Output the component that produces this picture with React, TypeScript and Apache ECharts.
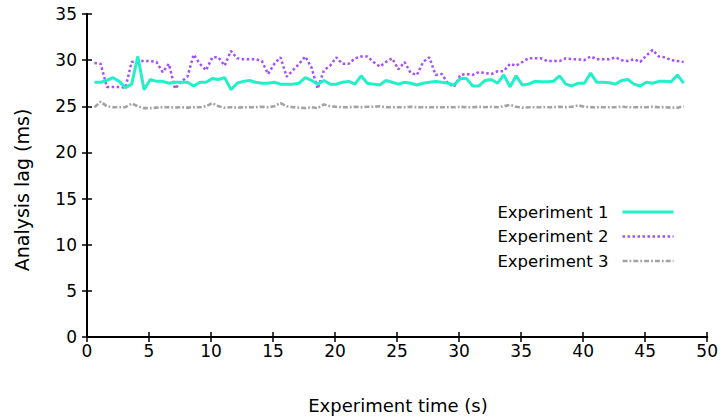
import React, { useEffect, useRef } from "react";
import * as echarts from "echarts";

// Sampling clock: one measurement every 0.5 s, starting at 0.6 s
const SAMPLE_START = 0.6;
const SAMPLE_STEP = 0.5;

const seriesNames = ["Experiment 1", "Experiment 2", "Experiment 3"];

const experiment1 = [
  27.6, 27.6, 27.8, 28.1, 27.7, 27.0, 27.4, 30.4, 26.8, 27.9,
  27.7, 27.7, 27.5, 27.6, 27.6, 27.6, 27.2, 27.6, 27.6, 28.0,
  27.9, 28.1, 26.8, 27.5, 27.7, 27.8, 27.6, 27.5, 27.5, 27.6,
  27.4, 27.4, 27.4, 27.5, 28.1, 27.8, 27.4, 27.8, 27.4, 27.4,
  27.6, 27.7, 27.4, 28.3, 27.5, 27.4, 27.3, 27.8, 27.6, 27.4,
  27.6, 27.5, 27.3, 27.5, 27.6, 27.7, 27.6, 27.5, 27.3, 28.0,
  28.0, 27.2, 27.2, 27.8, 27.9, 27.5, 28.4, 27.1, 28.3, 27.3,
  27.4, 27.7, 27.65, 27.65, 27.7, 28.3, 27.4, 27.2, 27.5, 27.5,
  28.6, 27.6, 27.6, 27.55, 27.4, 27.8, 27.9, 27.4, 27.2, 27.6,
  27.5, 27.7, 27.7, 27.65, 28.4, 27.5,
];

const experiment2 = [
  29.7, 29.6, 27.1, 27.1, 27.1, 27.0, 29.8, 29.9, 29.9, 29.9,
  29.8, 28.7, 29.6, 26.9, 27.7, 28.2, 30.6, 29.6, 28.9, 30.3,
  30.3, 29.4, 31.0, 30.2, 30.1, 30.1, 30.1, 29.9, 28.5, 29.6,
  30.3, 28.2, 28.9, 29.6, 30.4, 29.2, 26.9, 28.9, 29.4, 30.3,
  29.6, 29.6, 30.2, 30.4, 30.4, 29.8, 29.3, 29.8, 30.2, 29.0,
  29.8, 28.6, 28.4, 29.8, 30.3, 28.4, 28.5, 27.5, 27.1, 28.4,
  28.5, 28.4, 28.7, 28.6, 28.5, 28.8, 28.8, 29.6, 29.4, 29.8,
  30.2, 30.2, 30.2, 29.9, 29.9, 29.9, 30.2, 30.1, 30.1, 30.0,
  30.4, 30.1, 30.1, 30.1, 30.3, 30.0, 29.9, 30.1, 29.8, 30.5,
  31.1, 30.4, 30.3, 30.0, 29.9, 29.8,
];

const experiment3 = [
  24.9, 25.5, 25.0, 24.9, 24.9, 24.9, 25.3, 25.0, 24.8, 24.8,
  24.85, 24.9, 24.9, 24.85, 24.9, 24.85, 24.9, 24.9, 25.0, 25.35,
  25.0, 24.85, 24.9, 24.85, 24.9, 24.9, 24.9, 24.95, 24.9, 25.0,
  25.35, 25.0, 24.9, 24.85, 24.8, 24.9, 24.8, 25.2, 25.0, 24.95,
  24.9, 24.9, 24.95, 24.9, 24.95, 24.95, 25.0, 24.9, 24.9, 24.9,
  24.9, 24.95, 24.9, 24.9, 24.9, 24.9, 24.9, 24.9, 24.9, 24.95,
  24.9, 24.9, 24.95, 24.9, 24.95, 24.9, 25.0, 25.15, 24.95, 24.85,
  24.9, 24.9, 24.9, 24.9, 24.9, 24.95, 24.9, 24.95, 25.1, 24.95,
  24.9, 24.9, 24.9, 24.9, 24.9, 24.95, 24.9, 24.9, 24.9, 24.9,
  24.95, 24.9, 24.9, 24.85, 24.85, 25.0,
];

const X_TITLE = "Experiment time (s)";
const Y_TITLE = "Analysis lag (ms)";

const FONT = "'DejaVu Sans', sans-serif";

const lineStyles = [
  { color: "#22f0c8", width: 3 },
  { color: "#a64dff", width: 2.5, type: [2.5, 2.5] },
  { color: "#a3a3a3", width: 2.6, type: [5, 2, 1.8, 2] },
];

function withTimes(values: number[]) {
  return values.map((v, i) => [+(SAMPLE_START + i * SAMPLE_STEP).toFixed(2), v]);
}

export default function App() {
  const ref = useRef<HTMLDivElement>(null);

  useEffect(() => {
    if (!ref.current) return;
    const chart = echarts.init(ref.current, undefined, { renderer: "svg" });

    const axisLine = { show: true, lineStyle: { color: "#000", width: 2 } };
    const tick = { show: true, inside: true, length: 5, lineStyle: { color: "#000", width: 1.5 } };
    const label = { color: "#000", fontFamily: FONT, fontSize: 17 };

    const values = [experiment1, experiment2, experiment3];

    chart.setOption({
      animation: false,
      backgroundColor: "#fff",
      grid: { left: 87, right: 11, top: 14, bottom: 80, containLabel: false },
      xAxis: [
        {
          type: "value",
          min: 0,
          max: 50,
          interval: 5,
          axisLine,
          axisTick: tick,
          splitLine: { show: false },
          axisLabel: { ...label, margin: 5 },
        },
        {
          type: "value",
          position: "top",
          min: 0,
          max: 50,
          interval: 5,
          axisLine,
          axisTick: tick,
          splitLine: { show: false },
          axisLabel: { show: false },
        },
      ],
      yAxis: [
        {
          type: "value",
          min: 0,
          max: 35,
          interval: 5,
          axisLine,
          axisTick: tick,
          splitLine: { show: false },
          axisLabel: { ...label, margin: 10 },
        },
        {
          type: "value",
          position: "right",
          min: 0,
          max: 35,
          interval: 5,
          axisLine,
          axisTick: tick,
          splitLine: { show: false },
          axisLabel: { show: false },
        },
      ],
      legend: {
        orient: "vertical",
        align: "right",
        right: 41,
        top: 197,
        itemWidth: 51,
        itemHeight: 20,
        itemGap: 4.5,
        selectedMode: false,
        // line sample only, no marker on top of it
        itemStyle: { opacity: 0 },
        textStyle: {
          color: "#000",
          fontFamily: FONT,
          fontSize: 16.5,
          lineHeight: 20,
          padding: [0, 9, 0, 0],
        },
        data: seriesNames.map((name, i) => ({ name, lineStyle: { ...lineStyles[i] } })),
      },
      graphic: [
        {
          type: "text",
          x: 398,
          y: 405,
          style: {
            text: X_TITLE,
            fill: "#000",
            font: `18px ${FONT}`,
            textAlign: "center",
            textVerticalAlign: "middle",
          },
        },
        {
          type: "text",
          x: 22,
          y: 190,
          rotation: Math.PI / 2,
          style: {
            text: Y_TITLE,
            fill: "#000",
            font: `19px ${FONT}`,
            textAlign: "center",
            textVerticalAlign: "middle",
          },
        },
      ],
      series: seriesNames.map((name, i) => ({
        name,
        type: "line",
        data: withTimes(values[i]),
        showSymbol: false,
        symbol: "none",
        lineStyle: lineStyles[i],
        itemStyle: { color: lineStyles[i].color },
        z: 4 - i,
      })),
    });

    return () => chart.dispose();
  }, []);

  return (
    <div
      ref={ref}
      style={{ position: "fixed", left: 0, top: 0, width: 721, height: 417, background: "#fff" }}
    />
  );
}
